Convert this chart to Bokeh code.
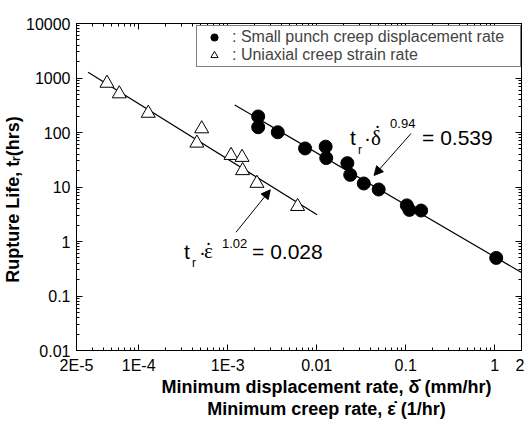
import numpy as np
from bokeh.plotting import figure
from bokeh.models import Range1d, LogAxis, FixedTicker, Label, Arrow, NormalHead
from bokeh.embed import file_html
from bokeh.resources import INLINE

# ---- data ----
sp_rate = [2.2e-3, 2.2e-3, 3.65e-3, 7.4e-3, 1.26e-2, 1.28e-2, 2.21e-2, 2.38e-2,
           3.38e-2, 4.97e-2, 0.103, 0.110, 0.149, 1.04]
sp_life = [197, 125, 101, 51, 55, 34, 27.4, 16.7, 11.6, 9.0, 4.6, 3.8, 3.7, 0.50]
uni_rate = [4.4e-5, 6.05e-5, 1.28e-4, 5.1e-4, 4.5e-4, 1.09e-3, 1.45e-3, 1.47e-3,
            2.13e-3, 6.1e-3]
uni_life = [803, 513, 226, 117, 64, 38, 35, 20, 11.7, 4.4]
sp_fit_rate = [1.2e-3, 2.0]
sp_fit_life = [320, 0.27]
uni_fit_rate = [2.7e-5, 1.01e-2]
uni_fit_life = [1280, 3.1]

x_ticks = [2e-5, 1e-4, 1e-3, 1e-2, 0.1, 1, 2]
x_tick_labels = ["2E-5", "1E-4", "1E-3", "0.01", "0.1", "1", "2"]
y_ticks = [0.01, 0.1, 1, 10, 100, 1000, 10000]
y_tick_labels = ["0.01", "0.1", "1", "10", "100", "1000", "10000"]

x_minor = [m * 10.0 ** e for e in range(-5, 1) for m in range(2, 10)
           if 2e-5 < m * 10.0 ** e < 2]
y_minor = [m * 10.0 ** e for e in range(-2, 4) for m in range(2, 10)]

FONT = "Liberation Sans"
SERIF = "Liberation Serif"
NB = "\u00a0"

p = figure(width=524, height=425, x_axis_type="log", y_axis_type="log",
           x_range=Range1d(2e-5, 2), y_range=Range1d(0.01, 10000),
           output_backend="svg", toolbar_location=None,
           min_border_left=75, min_border_right=3, min_border_top=23,
           min_border_bottom=75)
p.grid.visible = False
p.outline_line_color = "black"
p.background_fill_color = "white"
p.border_fill_color = "white"

p.add_layout(LogAxis(), "above")
p.add_layout(LogAxis(), "right")

for ax in p.xaxis:
    ax.ticker = FixedTicker(ticks=x_ticks, minor_ticks=x_minor)
    ax.major_label_overrides = {v: s for v, s in zip(x_ticks, x_tick_labels)}
for ax in p.yaxis:
    ax.ticker = FixedTicker(ticks=y_ticks, minor_ticks=y_minor)
    ax.major_label_overrides = {v: s for v, s in zip(y_ticks, y_tick_labels)}

for ax in p.xaxis + p.yaxis:
    ax.axis_line_color = "black"
    ax.major_tick_line_color = "black"
    ax.minor_tick_line_color = "black"
    ax.major_tick_in = 6
    ax.major_tick_out = 0
    ax.minor_tick_in = 3
    ax.minor_tick_out = 0
    ax.major_label_text_font = FONT
    ax.major_label_text_font_size = "16px"
    ax.major_label_text_color = "black"
    ax.major_label_standoff = 6

for ax in [p.above[0], p.right[0]]:
    ax.major_label_text_font_size = "0px"
    ax.major_label_text_color = None
    ax.major_label_standoff = 0

# axis titles
bx = p.below[0]
bx.axis_label = (NB * 11 + "Minimum displacement rate, \u03b4\u0307 (mm/hr)\n"
                 + NB * 11 + "Minimum creep rate, \u03b5\u0307 (1/hr)")
bx.axis_label_text_font = FONT
bx.axis_label_text_font_size = "18px"
bx.axis_label_text_font_style = "bold"
bx.axis_label_text_color = "black"
bx.axis_label_text_line_height = 1.1
bx.axis_label_standoff = 0

ly = p.left[0]
ly.axis_label = "Rupture Life, t\u1d63(hrs)" + NB * 5
ly.axis_label_text_font = FONT
ly.axis_label_text_font_size = "18px"
ly.axis_label_text_font_style = "bold"
ly.axis_label_text_color = "black"
ly.axis_label_standoff = 0

# fit lines
p.line(sp_fit_rate, sp_fit_life, line_color="black", line_width=1.2)
p.line(uni_fit_rate, uni_fit_life, line_color="black", line_width=1.2)

# data points
p.scatter(sp_rate, sp_life, marker="circle", size=13, fill_color="black",
          line_color="black", legend_label=": Small punch creep displacement rate")
p.scatter(uni_rate, uni_life, marker="triangle", size=14, fill_color="white",
          line_color="black", line_width=1,
          legend_label=": Uniaxial creep strain rate")

lg = p.legend[0]
lg.location = (120, 283)
lg.margin = 0
lg.padding = 2
lg.spacing = 0
lg.glyph_width = 30
lg.glyph_height = 18
lg.label_height = 18
lg.label_width = 286
lg.label_standoff = 3
lg.label_text_font = FONT
lg.label_text_font_size = "16px"
lg.border_line_color = "black"
lg.border_line_width = 1
lg.background_fill_alpha = 1

# arrows
p.add_layout(Arrow(end=NormalHead(size=9, fill_color="black", line_color="black"),
                   x_start=0.1148, y_start=95.9, x_end=0.0441, y_end=16.3,
                   line_color="black", line_width=1))
p.add_layout(Arrow(end=NormalHead(size=9, fill_color="black", line_color="black"),
                   x_start=1.24e-3, y_start=1.48, x_end=3.01e-3, y_end=8.89,
                   line_color="black", line_width=1))

def piece(x, y, dx, dy, text, size, font=FONT, style="normal"):
    p.add_layout(Label(x=x, y=y, x_offset=dx, y_offset=dy, text=text,
                       text_font=font, text_font_size=size, text_font_style=style,
                       text_color="black", text_align="left",
                       text_baseline="middle"))

# equation 1: t_r . delta-dot ^0.94 = 0.539
e1x, e1y = 0.0237, 80.0
piece(e1x, e1y, 0, 0, "t", "21px")
piece(e1x, e1y, 8, -12, "r", "12px")
piece(e1x, e1y, 14, 0, "\u00b7", "21px")
piece(e1x, e1y, 21, 0, "\u03b4", "21px", font=SERIF)
piece(e1x, e1y, 24, 5, "\u02d9", "21px", font=SERIF)
piece(e1x, e1y, 40, 14, "0.94", "13px")
piece(e1x, e1y, 72, 0, "= 0.539", "21px")

# equation 2: t_r . eps-dot ^1.02 = 0.028
e2x, e2y = 3.23e-4, 0.656
piece(e2x, e2y, 0, 0, "t", "21px")
piece(e2x, e2y, 8, -12, "r", "12px")
piece(e2x, e2y, 15, 0, "\u00b7", "21px")
piece(e2x, e2y, 20, 0, "\u03b5", "21px", font=SERIF)
piece(e2x, e2y, 21, 1, "\u02d9", "21px", font=SERIF)
piece(e2x, e2y, 38, 8, "1.02", "13px")
piece(e2x, e2y, 68, 0, "= 0.028", "21px")

open("out.html", "w").write(file_html(p, INLINE))
